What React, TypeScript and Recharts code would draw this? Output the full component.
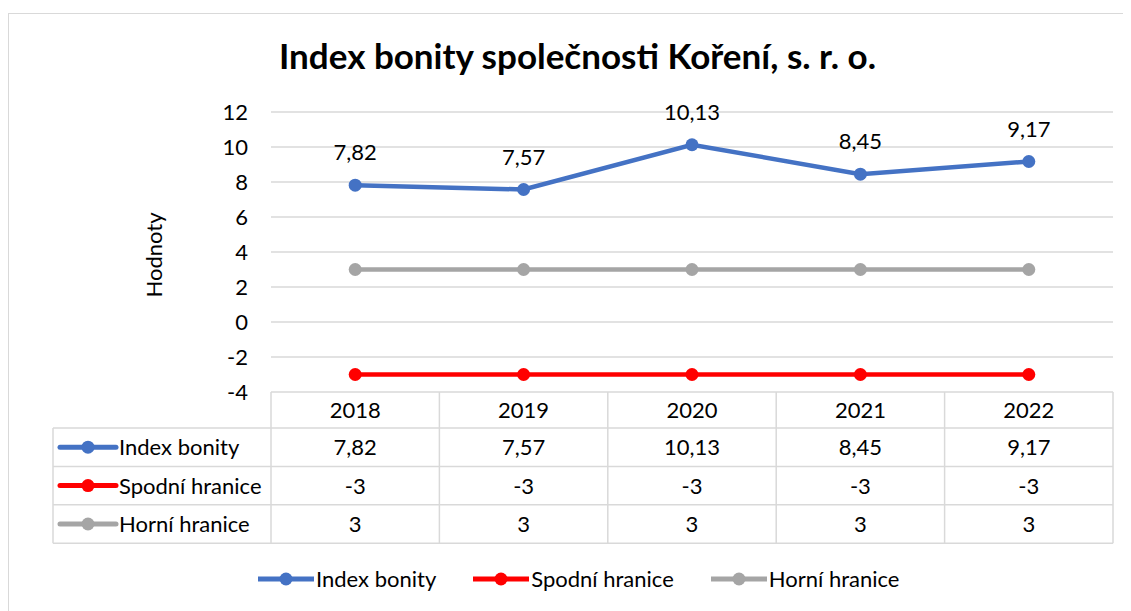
import React from 'react';
import { LineChart, Line, XAxis, YAxis, CartesianGrid, Legend, LabelList } from 'recharts';

const categories = ['2018', '2019', '2020', '2021', '2022'];
const indexBonity = [7.82, 7.57, 10.13, 8.45, 9.17];
const spodniHranice = [-3, -3, -3, -3, -3];
const horniHranice = [3, 3, 3, 3, 3];
const yTicks = [-4, -2, 0, 2, 4, 6, 8, 10, 12];
const seriesNames = ['Index bonity', 'Spodní hranice', 'Horní hranice'];
const seriesKeys = ['index', 'spodni', 'horni'];
const seriesColors = ['#4472C4', '#FF0000', '#A5A5A5'];
const seriesValues = [indexBonity, spodniHranice, horniHranice];
const titleText = 'Index bonity společnosti Koření, s. r. o.';
const yAxisTitle = 'Hodnoty';

const data = categories.map((c, i) => ({
  year: c,
  index: indexBonity[i],
  spodni: spodniHranice[i],
  horni: horniHranice[i],
}));

const FONT = 'Lato, "Open Sans", sans-serif';
const FS = 22;
const fmt = (v: number) => String(v).replace('.', ',');

const W = 1123;
const H = 603;
const MARGIN = { top: 104, right: 18, left: 0, bottom: 38 };
const YAXIS_W = 263;
const XAXIS_H = 151;
const PLOT_W = W - MARGIN.right - MARGIN.left - YAXIS_W;
const HALF_COL = PLOT_W / categories.length / 2;
const HEADER_H = 36;
const ROW_H = 38.4;
const TABLE_LEFT = 45;
const GRID = '#D9D9D9';

const Icon = ({ x, y, color }: { x: number; y: number; color: string }) => (
  <g>
    <line x1={x} x2={x + 56} y1={y} y2={y} stroke={color} strokeWidth={5} strokeLinecap="round" />
    <circle cx={x + 28} cy={y} r={6.5} fill={color} />
  </g>
);

const TableTick = (props: any) => {
  const { x, y, payload, index } = props;
  const n = categories.length;
  const half = payload && payload.offset > 0 ? payload.offset : HALF_COL;
  const colW = half * 2;
  const bottom = y + HEADER_H + ROW_H * seriesNames.length;
  const textProps = { fontFamily: FONT, fontSize: FS, fill: '#000', textAnchor: 'middle' as const };
  const els: any[] = [];
  els.push(<line key="vr" x1={x + half} x2={x + half} y1={y} y2={bottom} stroke={GRID} strokeWidth={1.5} />);
  if (index === 0) {
    const left = x - half;
    const right = left + colW * n;
    els.push(<line key="vl" x1={left} x2={left} y1={y} y2={bottom} stroke={GRID} strokeWidth={1.5} />);
    els.push(
      <line key="vt" x1={TABLE_LEFT} x2={TABLE_LEFT} y1={y + HEADER_H} y2={bottom} stroke={GRID} strokeWidth={1.5} />
    );
    for (let r = 0; r <= seriesNames.length; r++) {
      const ry = y + HEADER_H + ROW_H * r;
      els.push(<line key={'h' + r} x1={TABLE_LEFT} x2={right} y1={ry} y2={ry} stroke={GRID} strokeWidth={1.5} />);
    }
    seriesNames.forEach((name, s) => {
      const cy = y + HEADER_H + ROW_H * s + ROW_H / 2;
      els.push(<Icon key={'ic' + s} x={52} y={cy} color={seriesColors[s]} />);
      els.push(
        <text key={'rn' + s} x={111} y={cy} dy="0.36em" fontFamily={FONT} fontSize={FS} fill="#000">
          {name}
        </text>
      );
    });
  }
  els.push(
    <text key="hd" x={x} y={y + HEADER_H / 2} dy="0.36em" {...textProps}>
      {payload.value}
    </text>
  );
  seriesValues.forEach((vals, s) => {
    const cy = y + HEADER_H + ROW_H * s + ROW_H / 2;
    els.push(
      <text key={'v' + s} x={x} y={cy} dy="0.36em" {...textProps}>
        {fmt(vals[index])}
      </text>
    );
  });
  return <g>{els}</g>;
};

const LegendBox = () => (
  <div
    style={{
      display: 'flex',
      alignItems: 'center',
      height: 30,
      paddingLeft: 250,
      fontFamily: FONT,
      fontSize: FS,
      color: '#000',
    }}
  >
    {seriesNames.map((name, s) => (
      <div key={name} style={{ display: 'flex', alignItems: 'center', marginRight: 37 }}>
        <svg width={56} height={20} style={{ display: 'block' }}>
          <Icon x={0} y={10} color={seriesColors[s]} />
        </svg>
        <span style={{ marginLeft: 2, whiteSpace: 'nowrap', lineHeight: '30px' }}>{name}</span>
      </div>
    ))}
  </div>
);

export default function App() {
  return (
    <div style={{ position: 'relative', width: W, height: H, overflow: 'hidden', background: '#fff' }}>
      <div
        style={{
          position: 'absolute',
          top: 5,
          left: 0,
          width: W + 20,
          height: H + 20,
          borderTop: '1.5px solid #D9D9D9',
          borderLeft: '1.5px solid #D9D9D9',
        }}
      />
      <div
        style={{
          position: 'absolute',
          top: 30,
          left: 16,
          width: 1107,
          textAlign: 'center',
          fontFamily: FONT,
          fontWeight: 700,
          fontSize: 35,
          lineHeight: '35px',
          color: '#000',
          whiteSpace: 'nowrap',
        }}
      >
        {titleText}
      </div>
      <div style={{ position: 'absolute', top: 0, left: 0 }}>
        <LineChart width={W} height={H} data={data} margin={MARGIN}>
          <CartesianGrid vertical={false} stroke={GRID} strokeWidth={1.5} />
          <XAxis
            dataKey="year"
            height={XAXIS_H}
            padding={{ left: HALF_COL, right: HALF_COL }}
            axisLine={false}
            tickLine={false}
            tickSize={0}
            tickMargin={0}
            interval={0}
            tick={<TableTick />}
          />
          <YAxis
            width={YAXIS_W}
            domain={[-4, 12]}
            ticks={yTicks}
            interval={0}
            axisLine={false}
            tickLine={false}
            tickSize={0}
            tickMargin={23}
            tick={{ fontFamily: FONT, fontSize: FS, fill: '#000' }}
            label={{
              content: () => (
                <text
                  x={153.7}
                  y={247}
                  transform="rotate(-90, 153.7, 247)"
                  textAnchor="middle"
                  fontFamily={FONT}
                  fontSize={FS}
                  fill="#000"
                >
                  {yAxisTitle}
                </text>
              ),
            }}
          />
          <Legend
            verticalAlign="bottom"
            content={() => <LegendBox />}
            wrapperStyle={{ position: 'absolute', top: 556, left: 0, width: W, height: 30 }}
          />
          {seriesKeys.map((k, s) => (
            <Line
              key={k}
              type="linear"
              dataKey={k}
              name={seriesNames[s]}
              stroke={seriesColors[s]}
              strokeWidth={4.5}
              dot={{ r: 6.5, fill: seriesColors[s], stroke: seriesColors[s], strokeWidth: 0 }}
              activeDot={false}
              isAnimationActive={false}
            >
              {s === 0 ? (
                <LabelList
                  dataKey={k}
                  content={(p: any) => (
                    <text x={p.x} y={p.y - 25} textAnchor="middle" fontFamily={FONT} fontSize={FS} fill="#000">
                      {fmt(p.value)}
                    </text>
                  )}
                />
              ) : null}
            </Line>
          ))}
        </LineChart>
      </div>
    </div>
  );
}
